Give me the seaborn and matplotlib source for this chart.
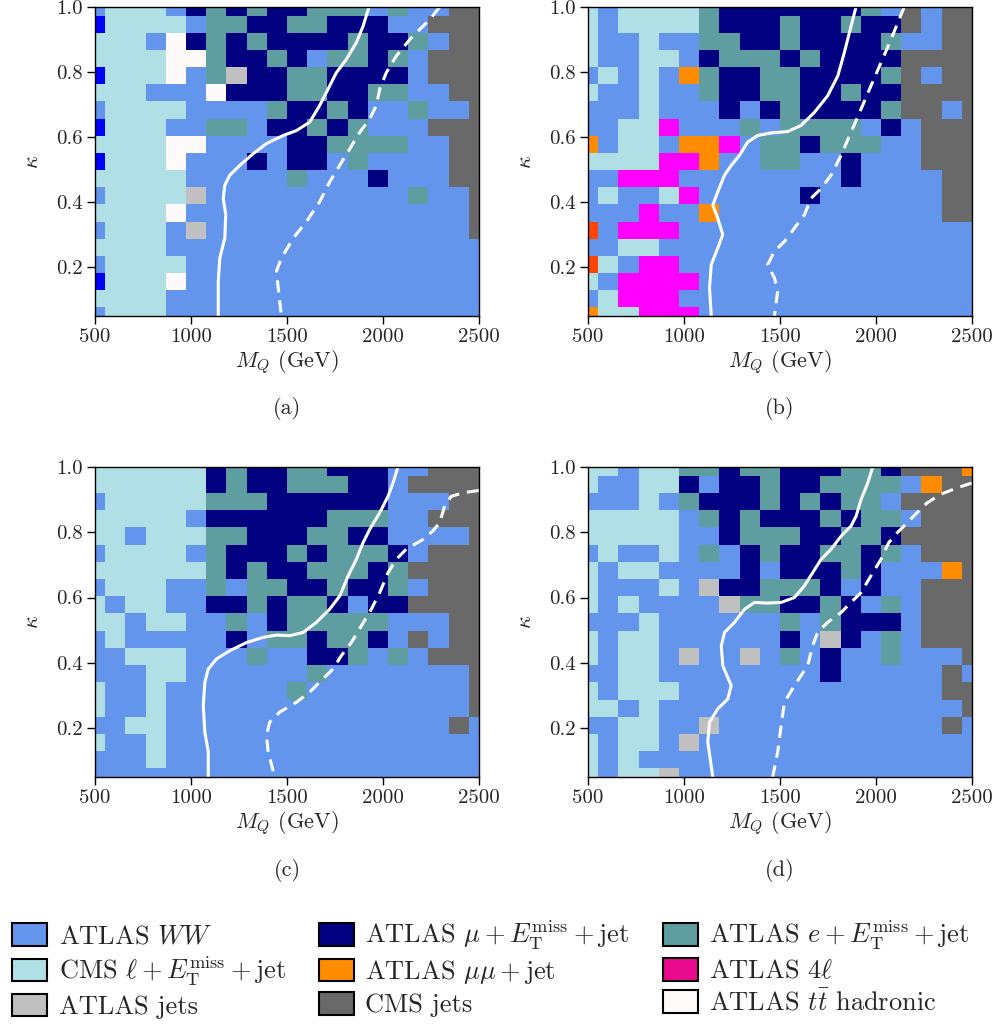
import numpy as np
import matplotlib
matplotlib.use("Agg")
import matplotlib.pyplot as plt
import seaborn as sns
from matplotlib.colors import ListedColormap
from matplotlib.patches import Patch

# ---------------- data ----------------
mass_grid = np.linspace(500, 2500, 20)      # GeV, column centres
kappa_grid = np.linspace(0.05, 1.0, 19)     # row centres

category_codes = ["W", "M", "E", "C", "O", "F", "J", "G", "T", "B", "R"]
category_colors = ["#6495ED", "#000080", "#5F9EA0", "#B0E0E6", "#FF8C00",
                   "#FF00FF", "#C0C0C0", "#696969", "#FFFAFA", "#0000FF", "#FF4500"]

legend_labels = [
    "ATLAS $WW$",
    r"CMS $\ell + E_{\mathrm{T}}^{\mathrm{miss}} + \mathrm{jet}$",
    "ATLAS jets",
    r"ATLAS $\mu + E_{\mathrm{T}}^{\mathrm{miss}} + \mathrm{jet}$",
    r"ATLAS $\mu\mu + \mathrm{jet}$",
    "CMS jets",
    r"ATLAS $e + E_{\mathrm{T}}^{\mathrm{miss}} + \mathrm{jet}$",
    r"ATLAS $4\ell$",
    r"ATLAS $t\bar{t}$ hadronic",
]
legend_colors = ["#6495ED", "#B0E0E6", "#C0C0C0", "#000080", "#FF8C00",
                 "#696969", "#5F9EA0", "#EA0A8E", "#FFFAFA"]

# rows listed from kappa = 1.0 (top) down to 0.05 (bottom)
panel_a = [
    "WCCCWMEMEMMEEEWEWWGG",
    "BCCCCWEEMMEEMMMWWGGG",
    "CCCWTMEMEMMMMEMMEWGG",
    "CCCCTTEMMEMWEEMEWGGG",
    "BCCCTWEJMMEEMMMMWGGG",
    "CCCWWWTMMMEEMMEEWWGG",
    "WCCCCWWWWEMMEMWWEWWG",
    "BCCCWWEEWMMEMEWWWGGG",
    "CCCCTTWWWWMMEEEEWWGG",
    "BCCCTWWWMWMMWEWWWWGG",
    "CCCCCWWWWWEWWWMWWWGG",
    "WCCCCJWWWWWWWWWWEWWG",
    "CCCCTWWWWWWWWWWWWWWG",
    "WCCCWJWWWWWWWWWWWWWG",
    "CCCCWWWWWWWWWWWWWWWW",
    "WCCCCWWWWWWWWWWWWWWW",
    "BCCCTWWWWWWWWWWWWWWW",
    "CCCCWWWWWWWWWWWWWWWW",
    "WCCCWWWWWWWWWWWWWWWW",
]
panel_b = [
    "CWCCCCEMMMMMMMEWGWGG",
    "CWCCCCEMMMEMMEMMGWGG",
    "CWWCWWEEMMEMMMMEWWGG",
    "CWWCCWMEEEMEMMMMGGGG",
    "WCWCWOEMMEEMMMMEGWGG",
    "CWWCWWEMMEEMMEMMGGGG",
    "WWWCWWWMWMEMMMMEGGWG",
    "WWCCFWWWEWEEEEWMWGGG",
    "OWCCWOOFWEEMEEEWWGGG",
    "CCCCFFOWWEEWWMWWWGGG",
    "WWFFFWWWWWWWWMWWWWGG",
    "WCWWCFWWWWWMWWWWWWGG",
    "WWWFWWOWWWWWWWWWWWGG",
    "RWFFFWWWWWWWWWWWWWWW",
    "WWCCWWWWWWWWWWWWWWWW",
    "RCWFFWWWWWWWWWWWWWWW",
    "CWFFFFWWWWWWWWWWWWWW",
    "WCFFFWWWWWWWWWWWWWWW",
    "OCCFFFWWWWWWWWWWWWWW",
]
panel_c = [
    "CCCCCCMEMMEEMMMWWGGG",
    "CCCCCCMEMMEEEMMWGGGG",
    "WCCCCCEEEMMMMMMWWWGG",
    "CCCCCWMMMMMMEEEWWGGG",
    "CCWCCCEEMMMEEMMWWWWG",
    "WCCCCWEMMMEMEEEMWGGG",
    "CCCCCCEMEMMEEEMEGGGG",
    "WCCCWWEWEEMMEMMEWGGG",
    "CWCCWWMMEMEEMWMMGGGG",
    "CCWCCWWEWMEEEEEWWWGG",
    "WCWWWWWMWEEMEEMWGWGG",
    "WWCCCWWWEWWMMEWEWGGG",
    "WWWCCWWWWWWEWWWWWWWG",
    "CWWCWWWWWWEWWWWWWWWG",
    "CWWCWWWWWWWWWWWWWWWG",
    "WWCCWWWWWWWWWWWWWWGW",
    "CWWCWWWWWWWWWWWWWWWW",
    "WWWCWWWWWWWWWWWWWWWW",
    "WWWWWWWWWWWWWWWWWWWW",
]
panel_d = [
    "CCWCCEEMEEMMMEEMGGGO",
    "CWWCCMWMMEMMEEEEWOGG",
    "WWWCWEMMMEMEMEEWGGGG",
    "CCCCCWEMEMMMEMEEWGGG",
    "CCCCCWWMEEEMMEEMGGGG",
    "WCWWCWEWMEMMEEMEWGGG",
    "CWCCWWWWMWMMMEMWWWOG",
    "CWWWCWJMMEEEMWMWWGGG",
    "CWCWWWWJEEMMEMWEWGGG",
    "WWWCWWWWWWEWEMMMWGGG",
    "CWCCWWWWWWMWJMWEWGGG",
    "CWCCWJWWJWEWMWWEWWWG",
    "WWCCWWWWWWWWMWWWWWGW",
    "CWCCCWWWWWWWWWWWWWGG",
    "CCWCWWWWWWWWWWWWWWWG",
    "WWCCWWJWWWWWWWWWWWGW",
    "CWCCWJWWWWWWWWWWWWWW",
    "CWCWWWWWWWWWWWWWWWWW",
    "CWCCJWWWWWWWWWWWWWWW",
]

# exclusion contours (M_Q in GeV, kappa)
a_solid_m = [1927, 1896, 1861, 1809, 1757, 1714, 1670, 1618, 1549, 1480, 1393, 1324, 1254, 1202, 1176, 1168, 1181, 1176, 1150, 1142, 1142]
a_solid_k = [1.0, 0.941, 0.890, 0.839, 0.798, 0.748, 0.697, 0.646, 0.620, 0.605, 0.580, 0.549, 0.513, 0.483, 0.452, 0.412, 0.361, 0.289, 0.228, 0.157, 0.05]
a_dash_m = [2295, 2243, 2191, 2139, 2069, 2017, 1983, 1965, 1931, 1879, 1827, 1774, 1722, 1670, 1601, 1532, 1471, 1445, 1454, 1471]
a_dash_k = [1.0, 0.961, 0.931, 0.900, 0.849, 0.798, 0.748, 0.697, 0.656, 0.615, 0.564, 0.513, 0.462, 0.401, 0.340, 0.289, 0.228, 0.188, 0.137, 0.05]

b_solid_m = [1896, 1870, 1835, 1801, 1748, 1679, 1610, 1540, 1454, 1384, 1332, 1289, 1246, 1211, 1176, 1150, 1176, 1202, 1176, 1142, 1133, 1142]
b_solid_k = [1.0, 0.941, 0.860, 0.788, 0.727, 0.676, 0.636, 0.617, 0.613, 0.605, 0.585, 0.544, 0.513, 0.483, 0.432, 0.391, 0.350, 0.300, 0.259, 0.208, 0.137, 0.05]
b_dash_m = [2147, 2113, 2078, 2026, 1974, 1922, 1870, 1818, 1766, 1714, 1662, 1627, 1575, 1523, 1471, 1436, 1471, 1488, 1471]
b_dash_k = [1.0, 0.951, 0.900, 0.829, 0.758, 0.686, 0.615, 0.544, 0.483, 0.442, 0.412, 0.361, 0.320, 0.279, 0.249, 0.208, 0.167, 0.127, 0.05]

c_solid_m = [2078, 2052, 2026, 1983, 1931, 1896, 1861, 1818, 1775, 1722, 1653, 1584, 1514, 1445, 1376, 1289, 1202, 1133, 1090, 1072, 1064, 1072, 1090, 1090]
c_solid_k = [1.0, 0.951, 0.910, 0.860, 0.809, 0.768, 0.717, 0.666, 0.605, 0.564, 0.524, 0.493, 0.483, 0.485, 0.478, 0.462, 0.437, 0.412, 0.381, 0.340, 0.269, 0.188, 0.127, 0.05]
c_dash_m = [2500, 2416, 2355, 2321, 2295, 2260, 2208, 2121, 2069, 2026, 1983, 1939, 1887, 1835, 1783, 1740, 1688, 1618, 1549, 1462, 1410, 1393, 1402, 1436]
c_dash_k = [0.928, 0.921, 0.910, 0.880, 0.829, 0.804, 0.778, 0.748, 0.717, 0.676, 0.615, 0.564, 0.513, 0.462, 0.422, 0.381, 0.351, 0.310, 0.279, 0.249, 0.218, 0.177, 0.127, 0.05]

d_solid_m = [1983, 1957, 1922, 1896, 1870, 1818, 1766, 1714, 1670, 1627, 1575, 1506, 1436, 1367, 1315, 1263, 1211, 1194, 1202, 1246, 1228, 1176, 1133, 1124, 1150]
d_solid_k = [1.0, 0.951, 0.900, 0.849, 0.819, 0.788, 0.748, 0.717, 0.676, 0.636, 0.600, 0.585, 0.583, 0.585, 0.564, 0.524, 0.493, 0.452, 0.391, 0.330, 0.289, 0.259, 0.218, 0.157, 0.05]
d_dash_m = [2500, 2422, 2335, 2266, 2214, 2162, 2110, 2066, 2026, 1983, 1922, 1870, 1818, 1748, 1696, 1670, 1644, 1575, 1523, 1506, 1488, 1462]
d_dash_k = [0.951, 0.936, 0.916, 0.890, 0.860, 0.829, 0.798, 0.768, 0.717, 0.676, 0.615, 0.585, 0.554, 0.524, 0.493, 0.452, 0.391, 0.330, 0.279, 0.208, 0.127, 0.05]

x_ticks = [500, 1000, 1500, 2000, 2500]
y_ticks = [0.2, 0.4, 0.6, 0.8, 1.0]
panel_tags = ["(a)", "(b)", "(c)", "(d)"]

# ---------------- style ----------------
sns.set_style("ticks")
plt.rcParams["font.family"] = ["cmr10", "DejaVu Serif"]
plt.rcParams["mathtext.fontset"] = "cm"
plt.rcParams["axes.unicode_minus"] = False
plt.rcParams["axes.linewidth"] = 1.0

W_PX, H_PX = 999, 1024
fig = plt.figure(figsize=(W_PX / 100, H_PX / 100), dpi=100)

cmap = ListedColormap(category_colors)
code_index = {c: i for i, c in enumerate(category_codes)}
nx, ny = len(mass_grid), len(kappa_grid)
dm = mass_grid[1] - mass_grid[0]
dk = kappa_grid[1] - kappa_grid[0]


def to_hx(m):
    return 0.5 + (np.asarray(m, float) - mass_grid[0]) / dm


def to_hy(k):
    return 0.5 + (np.asarray(k, float) - kappa_grid[0]) / dk


boxes = [(95, 7, 479, 316), (588, 7, 972, 316), (95, 467, 479, 777), (588, 467, 972, 777)]
panels = [panel_a, panel_b, panel_c, panel_d]
solids = [(a_solid_m, a_solid_k), (b_solid_m, b_solid_k), (c_solid_m, c_solid_k), (d_solid_m, d_solid_k)]
dashes = [(a_dash_m, a_dash_k), (b_dash_m, b_dash_k), (c_dash_m, c_dash_k), (d_dash_m, d_dash_k)]

FS_TICK = 15
FS_LAB = 16
for i, (l, t, r, b) in enumerate(boxes):
    ax = fig.add_axes([l / W_PX, 1 - b / H_PX, (r - l) / W_PX, (b - t) / H_PX])
    rows = panels[i][::-1]  # bottom row first
    mat = np.array([[code_index[c] for c in row] for row in rows])
    sns.heatmap(mat, cmap=cmap, vmin=-0.5, vmax=len(category_codes) - 0.5,
                cbar=False, xticklabels=False, yticklabels=False, ax=ax,
                linewidths=0)
    ax.set_xlim(0.5, nx - 0.5)
    ax.set_ylim(0.5, ny - 0.5)
    for s in ax.spines.values():
        s.set_visible(True)
        s.set_color("black")
        s.set_linewidth(1.0)
    sm, sk = solids[i]
    ax.plot(to_hx(sm), to_hy(sk), color="white", lw=2.2, solid_capstyle="butt")
    qm, qk = dashes[i]
    ax.plot(to_hx(qm), to_hy(qk), color="white", lw=2.2, dashes=(4.0, 2.6))
    ax.set_xticks(to_hx(x_ticks))
    ax.set_xticklabels([str(v) for v in x_ticks])
    ax.set_yticks(to_hy(y_ticks))
    ax.set_yticklabels([f"{v:.1f}" for v in y_ticks])
    ax.tick_params(axis="both", direction="out", length=5.5, width=1.0,
                   color="black", labelsize=FS_TICK, pad=3.5,
                   bottom=True, left=True, labelbottom=True, labelleft=True)
    plt.setp(ax.get_yticklabels(), rotation=0)
    ax.set_xlabel(r"$M_Q$ (GeV)", fontsize=FS_LAB, labelpad=1)
    ax.set_ylabel(r"$\kappa$", fontsize=FS_LAB, labelpad=10)
    fig.text((l + r) / 2 / W_PX, 1 - (b + 93) / H_PX, panel_tags[i],
             ha="center", va="center", fontsize=FS_LAB)

handles = [Patch(facecolor=c, edgecolor="black", linewidth=1.5) for c in legend_colors]
fig.legend(handles, legend_labels, ncol=3, loc="upper left",
           bbox_to_anchor=(-0.004, 1 - 903 / H_PX), frameon=False, fontsize=19,
           handlelength=1.35, handleheight=0.95, handletextpad=0.42,
           columnspacing=1.25, labelspacing=0.22, borderaxespad=0.2)

fig.savefig("out.png", dpi=100)
